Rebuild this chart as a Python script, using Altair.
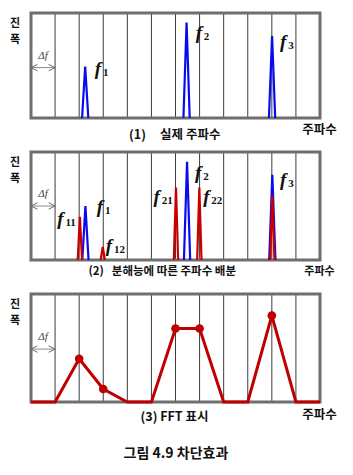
import altair as alt
import pandas as pd

# ---------------- data ----------------
grid_bins = [1, 2, 3, 4, 5, 6, 7, 8, 9, 10, 11]  # Δf bin boundaries

# (1) actual frequencies (blue)
p1_ids = ["f1", "f2", "f3"]
p1_centers = [2.25, 6.46, 10.01]
p1_heights = [0.49, 0.91, 0.78]

# (2) distribution by resolution
p2_blue_ids = ["f1", "f2", "f3"]
p2_blue_centers = [2.26, 6.48, 10.02]
p2_blue_heights = [0.50, 0.91, 0.79]
p2_red_ids = ["f11", "f12", "f21", "f22", "f3r"]
p2_red_centers = [2.03, 2.98, 6.02, 6.99, 10.02]
p2_red_heights = [0.40, 0.12, 0.67, 0.67, 0.60]

# (3) FFT display
fft_bins = [0, 1, 2, 3, 4, 5, 6, 7, 8, 9, 10, 11, 12]
fft_values = [0, 0, 0.40, 0.12, 0, 0, 0.68, 0.68, 0, 0, 0.80, 0, 0]

# peak labels
p1_label_sub = ["1", "2", "3"]
p1_label_x = [2.78, 6.97, 10.47]
p1_label_y = [0.47, 0.81, 0.72]

p2_label_sub = ["11", "1", "12", "21", "2", "22", "3"]
p2_label_x = [1.22, 2.86, 3.24, 5.22, 6.94, 7.28, 10.47]
p2_label_y = [0.38, 0.49, 0.13, 0.58, 0.81, 0.58, 0.74]

NB = "\u00a0"
captions = [
    "(1)" + NB * 5 + "실제 주파수",
    "(2)" + NB * 3 + "분해능에 따른 주파수 배분",
    "(3) FFT 표시",
]
caption_x = [5.97, 5.45, 5.96]
caption_size = [12.5, 11.5, 12.5]
y_title = "진\n폭"
x_title = "주파수"
figure_title = "그림 4.9 차단효과"
delta_label = "Δf"

# ---------------- style ----------------
W = 289
H1, H2, H3 = 105, 108, 108
BLUE = "#0a0af0"
RED = "#c80000"
DARKRED = "#c00000"
BLUE_HALF = 0.13
RED_HALF = 0.09
KFONT = "Noto Sans CJK KR"
SFONT = "Liberation Serif"

xs = alt.Scale(domain=[0, 12], nice=False, zero=False)
ys = alt.Scale(domain=[0, 1], nice=False, zero=False)


def X(f):
    return alt.X(f, type="quantitative", scale=xs, axis=None)


def Y(f):
    return alt.Y(f, type="quantitative", scale=ys, axis=None)


def one():
    return pd.DataFrame({"a": [0]})


def triangles(ids, centers, heights, half):
    rows = []
    for i, c, h in zip(ids, centers, heights):
        rows.append({"id": i, "o": 0, "x": c - half, "y": 0.0})
        rows.append({"id": i, "o": 1, "x": c, "y": h})
        rows.append({"id": i, "o": 2, "x": c + half, "y": 0.0})
    return pd.DataFrame(rows)


def spacer(x0, x1, y0, y1):
    return alt.Chart(one()).mark_rect(fill="white", opacity=0).encode(
        x=alt.value(x0), x2=alt.value(x1), y=alt.value(y0), y2=alt.value(y1)
    )


def frame_layers(H, arrow_y):
    grid = alt.Chart(pd.DataFrame({"b": grid_bins})).mark_rule(
        color="#3c3c3c", strokeWidth=1
    ).encode(x=X("b"))
    frame = alt.Chart(one()).mark_rect(
        fill="transparent", stroke="#6e6e6e", strokeWidth=3
    ).encode(x=alt.value(0), x2=alt.value(W), y=alt.value(0), y2=alt.value(H))
    arr = pd.DataFrame({"x0": [0], "x1": [1], "y": [arrow_y]})
    shaft = alt.Chart(arr).mark_rule(color="#8a8a8a", strokeWidth=1).encode(
        x=X("x0"), x2="x1", y=Y("y")
    )
    heads = alt.Chart(
        pd.DataFrame(
            {
                "x": [0, 1],
                "y": [arrow_y, arrow_y],
                "shp": ["M2,-1L0,0L2,1", "M-2,-1L0,0L-2,1"],
            }
        )
    ).mark_point(filled=False, size=42, stroke="#6a6a6a", strokeWidth=1, opacity=1).encode(
        x=X("x"), y=Y("y"), shape=alt.Shape("shp:N", scale=None, legend=None)
    )
    dlab = alt.Chart(pd.DataFrame({"x": [0.5], "y": [arrow_y + 0.11]})).mark_text(
        text=delta_label, font=SFONT, fontStyle="italic", fontSize=11, color="#444"
    ).encode(x=X("x"), y=Y("y"))
    ytitle = alt.Chart(pd.DataFrame({"x": [-0.66], "y": [0.95]})).mark_text(
        text=y_title, lineBreak="\n", lineHeight=16, font=KFONT, fontWeight="bold",
        fontSize=11, baseline="top", color="#111"
    ).encode(x=X("x"), y=Y("y"))
    return [grid, frame, shaft, heads, dlab, ytitle]


def bottom_texts(i, cap_y, xt_y, xt_size):
    c = alt.Chart(pd.DataFrame({"x": [caption_x[i]], "y": [cap_y]})).mark_text(
        text=captions[i], font=KFONT, fontWeight="bold", fontSize=caption_size[i], color="#111"
    ).encode(x=X("x"), y=Y("y"))
    t = alt.Chart(pd.DataFrame({"x": [11.98], "y": [xt_y]})).mark_text(
        text=x_title, font=KFONT, fontWeight="bold", fontSize=xt_size, color="#111"
    ).encode(x=X("x"), y=Y("y"))
    return [c, t]


def peak_lines(df, color):
    return alt.Chart(df).mark_line(color=color, strokeWidth=2.2).encode(
        x=X("x"), y=Y("y"), detail="id:N", order="o:Q"
    )


def f_labels(subs, xs_, ys_):
    df = pd.DataFrame({"s": subs, "x": xs_, "y": ys_})
    f = alt.Chart(df).mark_text(
        text="f", font=SFONT, fontStyle="italic", fontWeight="bold", fontSize=19,
        color="#111", baseline="middle", align="center"
    ).encode(x=X("x"), y=Y("y"))
    s = alt.Chart(df).mark_text(
        font=SFONT, fontWeight="bold", fontSize=11, color="#111",
        baseline="middle", align="left", dx=5, dy=4
    ).encode(x=X("x"), y=Y("y"), text="s:N")
    return [f, s]


# ---------------- panel 1 ----------------
p1 = alt.layer(
    spacer(-31, W + 33, -13, H1),
    *frame_layers(H1, 0.48),
    peak_lines(triangles(p1_ids, p1_centers, p1_heights, BLUE_HALF), BLUE),
    *f_labels(p1_label_sub, p1_label_x, p1_label_y),
    *bottom_texts(0, -0.16, -0.115, 12.5),
).properties(width=W, height=H1)

# ---------------- panel 2 ----------------
p2 = alt.layer(
    *frame_layers(H2, 0.50),
    peak_lines(triangles(p2_blue_ids, p2_blue_centers, p2_blue_heights, BLUE_HALF), BLUE),
    peak_lines(triangles(p2_red_ids, p2_red_centers, p2_red_heights, RED_HALF), RED),
    *f_labels(p2_label_sub, p2_label_x, p2_label_y),
    *bottom_texts(1, -0.108, -0.108, 11),
).properties(width=W, height=H2)

# ---------------- panel 3 ----------------
fft_df = pd.DataFrame({"x": fft_bins, "y": fft_values})
fft_line = alt.Chart(fft_df).mark_line(color=DARKRED, strokeWidth=3).encode(
    x=X("x"), y=Y("y")
)
fft_pts = alt.Chart(fft_df).transform_filter("datum.y > 0").mark_circle(
    color=DARKRED, size=75, opacity=1
).encode(x=X("x"), y=Y("y"))
cap_fig = alt.Chart(pd.DataFrame({"x": [6.02], "y": [-0.48]})).mark_text(
    text=figure_title, font=KFONT, fontWeight="bold", fontSize=14, color="#111"
).encode(x=X("x"), y=Y("y"))

p3 = alt.layer(
    spacer(-31, W + 33, 0, H3 + 73),
    *frame_layers(H3, 0.49),
    fft_line,
    fft_pts,
    *bottom_texts(2, -0.139, -0.123, 12.5),
    cap_fig,
).properties(width=W, height=H3)

chart = (
    alt.vconcat(p1, p2, p3, spacing=34, bounds="flush")
    .properties(padding=0, background="white")
    .configure_view(strokeWidth=0, stroke=None)
)

chart.save("out.html", embed_options={"renderer": "svg", "actions": False})
